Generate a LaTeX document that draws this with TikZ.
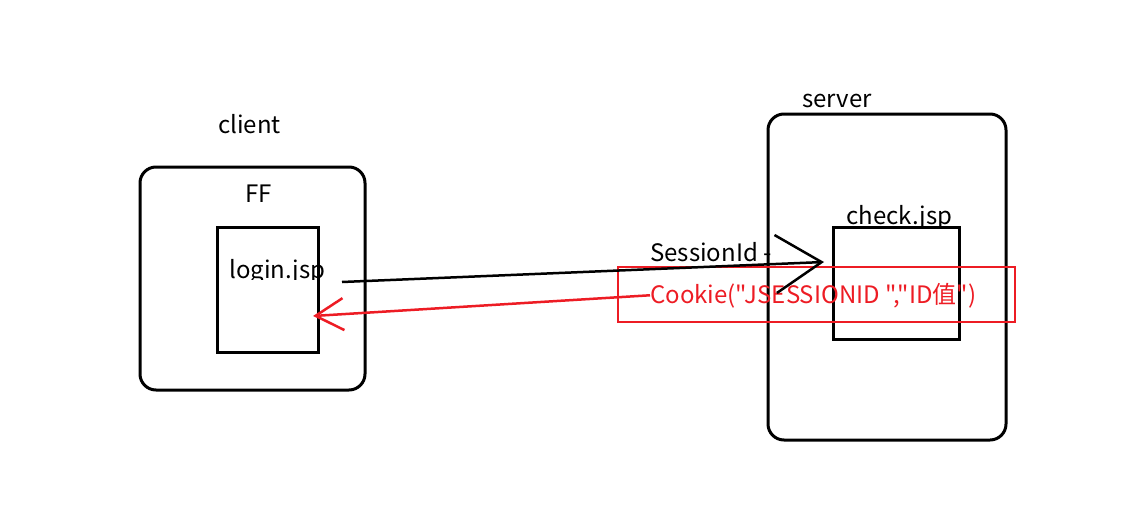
\documentclass[tikz,border=0pt]{standalone}
\usepackage{fontspec}
\newfontfamily\cjk{Noto Sans CJK SC}
\usepackage{tikz}
\usetikzlibrary{positioning}
\usetikzlibrary{arrows.meta}
\definecolor{cred}{RGB}{237,28,36}
\tikzset{outer/.style={draw=black,line width=3pt,rounded corners=16pt,inner sep=0pt}}
\tikzset{page/.style={draw=black,line width=3pt,inner sep=0pt}}
\tikzset{lbl/.style={font=\cjk\fontsize{24}{28}\selectfont,inner sep=0pt}}

\begin{document}
\begin{tikzpicture}[x=1pt,y=-1pt]
\useasboundingbox (0,0) rectangle (1145,530);

% client side
\node[outer,minimum width=225pt,minimum height=223pt] (client) at (252.5,278.5) {};
\node[page,minimum width=101pt,minimum height=125pt] (login) at (267.5,289.5) {};
\node[lbl,anchor=base west] (clientlbl) at (218,133) {client};
\node[lbl,anchor=base west] (ff) at (245,202) {FF};
\begin{scope}
  \clip (220,240) rectangle (335,279);
  \node[lbl,anchor=base west] (loginlbl) at (229,278) {login.jsp};
\end{scope}

% server side
\node[outer,minimum width=238pt,minimum height=326pt] (server) at (887,277) {};
\node[page,minimum width=126pt,minimum height=112pt] (check) at (896,283) {};
\node[lbl,anchor=base west] (serverlbl) at (802,107) {server};
\begin{scope}
  \clip (840,190) rectangle (960,227);
  \node[lbl,anchor=base west] (checklbl) at (846,224) {check.jsp};
\end{scope}

% messages
\node[draw=cred,line width=2.5pt,minimum width=397pt,minimum height=55pt] (cookiebox) at (816.5,294.5) {};
\node[lbl,anchor=base west] (sid) at (650,261) {SessionId\hspace{6pt}-};
\node[lbl,anchor=base west,text=cred] (cookie) at (650,303) {Cookie("JSESSIONID ","ID值")};
\coordinate (from) at (342,282);
\coordinate (to) at (824,262);
\coordinate (back) at (313,316);
\draw[line width=2.5pt,-{Straight Barb[length=46pt,width=58pt,line width=2.5pt]}] (from) -- (to);
\draw[cred,line width=2.5pt,-{Straight Barb[length=28pt,width=32pt,line width=2.5pt]}] (cookie.west) -- (back);

\end{tikzpicture}
\end{document}
